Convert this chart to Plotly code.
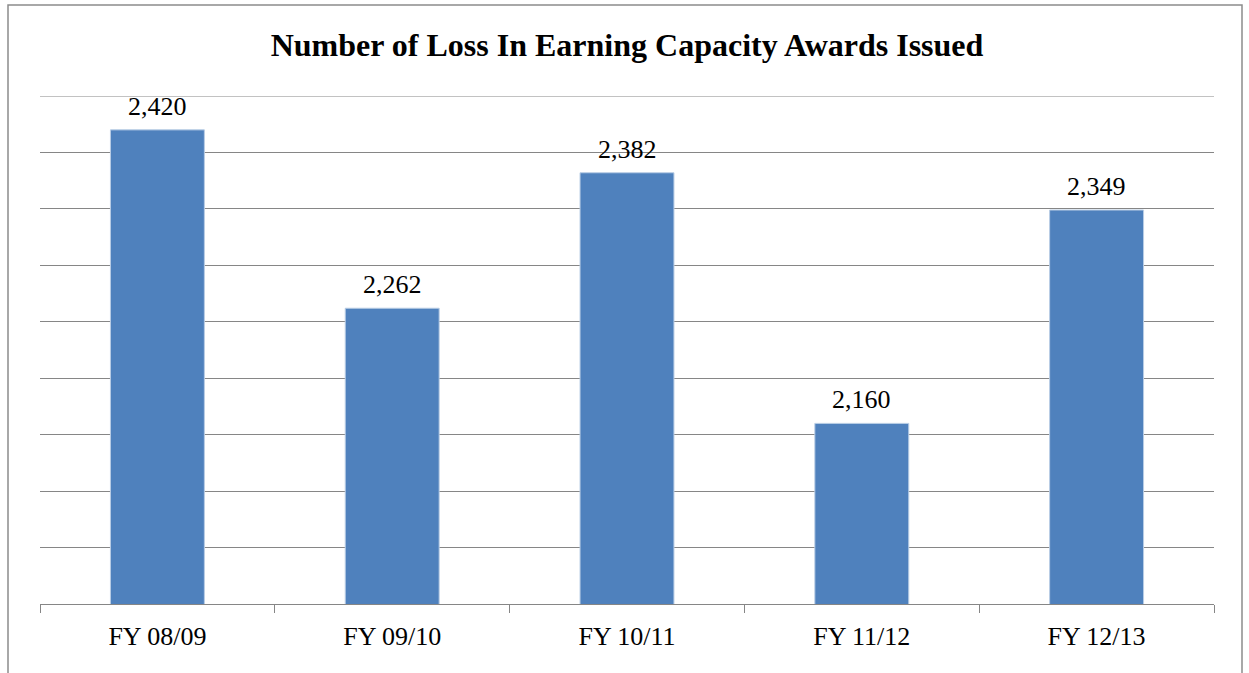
import plotly.graph_objects as go

categories = ["FY 08/09", "FY 09/10", "FY 10/11", "FY 11/12", "FY 12/13"]
awards = [2420, 2262, 2382, 2160, 2349]
title_text = "Number of Loss In Earning Capacity Awards Issued"

SERIF = "Liberation Serif, Times New Roman, serif"
GRID = "#868686"
Y_MIN, Y_MAX, Y_STEP = 2000, 2450, 50

fig = go.Figure()
fig.add_trace(go.Bar(
    x=categories,
    y=awards,
    marker=dict(color="#4F81BD", line=dict(color="#B9CDE5", width=1)),
    hoverinfo="x+y",
))

for c, v in zip(categories, awards):
    fig.add_annotation(
        x=c, y=v, text=f"{v:,}", showarrow=False,
        yanchor="bottom", yshift=7,
        font=dict(family=SERIF, size=26, color="#000000"),
    )

fig.update_layout(
    width=1249, height=673,
    margin=dict(l=40, r=35, t=96, b=69),
    paper_bgcolor="#FFFFFF", plot_bgcolor="#FFFFFF",
    bargap=0.6,
    showlegend=False,
    title=dict(
        text=f"<b>{title_text}</b>",
        x=(40 + 1174 / 2) / 1249, xanchor="center",
        y=1 - 45 / 673, yanchor="middle",
        font=dict(family=SERIF, size=32, color="#000000"),
    ),
    xaxis=dict(
        showline=True, linecolor=GRID, linewidth=1,
        ticks="outside", tickson="boundaries", ticklen=8, tickcolor=GRID,
        tickfont=dict(family=SERIF, size=26, color="#000000"),
        ticklabelstandoff=9,
        showgrid=False,
    ),
    yaxis=dict(
        range=[Y_MIN, Y_MAX], dtick=Y_STEP, tick0=Y_MIN,
        showticklabels=False, showgrid=True, gridcolor=GRID, gridwidth=1,
        zeroline=False, ticks="",
    ),
)

# top gridline at the range edge (plotly omits it)
fig.add_shape(
    type="line", xref="paper", yref="y",
    x0=0, x1=1, y0=Y_MAX, y1=Y_MAX,
    line=dict(color=GRID, width=1), layer="below",
)

# outer chart frame
fig.add_shape(
    type="rect", xref="paper", yref="paper",
    x0=(8 - 40) / 1174, x1=(1242 - 40) / 1174,
    y0=(604 - 690) / 508, y1=(604 - 5) / 508,
    line=dict(color="#8C8C8C", width=1.5), fillcolor="rgba(0,0,0,0)",
    layer="below",
)

fig.write_html(
    "out.html",
    config={"displayModeBar": False},
    post_script="document.body.style.margin='0';document.body.style.overflow='hidden';",
)
